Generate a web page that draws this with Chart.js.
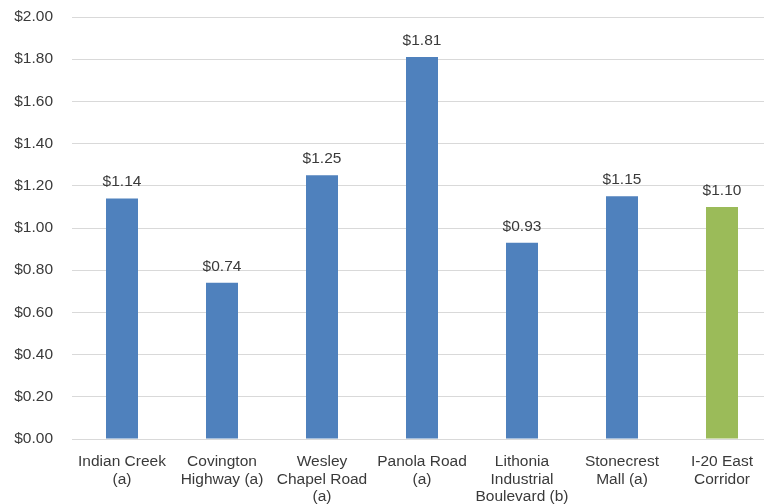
<!DOCTYPE html>
<html>
<head>
<meta charset="utf-8">
<script src="https://cdn.jsdelivr.net/npm/chart.js@4"></script>
<style>
  html, body { margin: 0; padding: 0; background: #fff; overflow: hidden; }
  #wrap { width: 772px; height: 504px; }
</style>
</head>
<body>
<div id="wrap"><canvas id="chart" width="772" height="504"></canvas></div>
<script>
'use strict';

const categories = [
  ['Indian Creek', '(a)'],
  ['Covington', 'Highway (a)'],
  ['Wesley', 'Chapel Road', '(a)'],
  ['Panola Road', '(a)'],
  ['Lithonia', 'Industrial', 'Boulevard (b)'],
  ['Stonecrest', 'Mall (a)'],
  ['I-20 East', 'Corridor']
];
const costs = [1.14, 0.74, 1.25, 1.81, 0.93, 1.15, 1.10];
const barColors = ['#4f81bd', '#4f81bd', '#4f81bd', '#4f81bd', '#4f81bd', '#4f81bd', '#9bbb59'];

const money = v => '$' + Number(v).toFixed(2);
const FONT = '"Liberation Sans", Arial, sans-serif';

// value labels above each bar
const barLabels = {
  id: 'barLabels',
  afterDatasetsDraw(chart) {
    const ctx = chart.ctx;
    const meta = chart.getDatasetMeta(0);
    ctx.save();
    ctx.font = '15.5px ' + FONT;
    ctx.fillStyle = '#3a3a3a';
    ctx.textAlign = 'center';
    ctx.textBaseline = 'alphabetic';
    meta.data.forEach((bar, i) => {
      ctx.fillText(money(costs[i]), bar.x, bar.y - 12);
    });
    ctx.restore();
  }
};

const canvasEl = document.getElementById('chart');
new Chart(canvasEl.getContext('2d'), {
  type: 'bar',
  data: {
    labels: categories,
    datasets: [{
      data: costs,
      backgroundColor: barColors,
      barPercentage: 0.32,
      categoryPercentage: 1
    }]
  },
  options: {
    responsive: false,
    animation: false,
    layout: { padding: { top: 17, left: 0, right: 0, bottom: 0 } },
    plugins: {
      legend: { display: false },
      tooltip: { enabled: false }
    },
    scales: {
      x: {
        afterFit(scale) { scale.height = 65; },
        grid: { display: false },
        border: { color: '#d9d9d9', width: 1 },
        ticks: {
          color: '#3a3a3a',
          font: { family: FONT, size: 15.5, lineHeight: 1.13 },
          maxRotation: 0,
          autoSkip: false,
          padding: 6
        }
      },
      y: {
        min: 0,
        max: 2,
        afterFit(scale) {
          scale.width = 72;
          scale.paddingTop = 0;
          scale.paddingBottom = 0;
        },
        grid: { color: '#d9d9d9', drawTicks: false },
        border: { display: false },
        ticks: {
          stepSize: 0.2,
          color: '#3a3a3a',
          padding: 19,
          font: { family: FONT, size: 15.5 },
          callback: v => money(v)
        }
      }
    }
  },
  plugins: [barLabels]
});
</script>
</body>
</html>
